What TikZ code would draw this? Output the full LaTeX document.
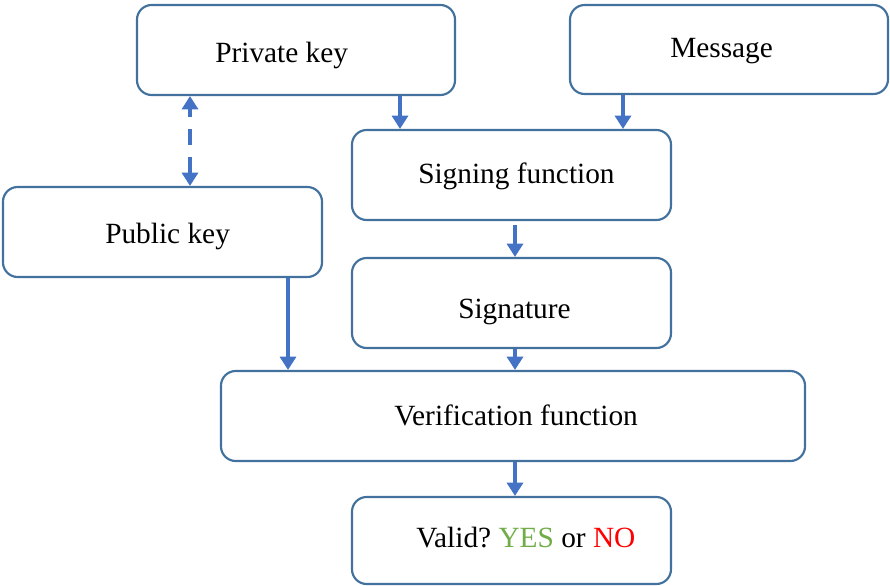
\documentclass[tikz,border=0pt]{standalone}
\usepackage{fontspec}
\setmainfont{Liberation Serif}
\usetikzlibrary{arrows.meta}
\frenchspacing
\definecolor{boxline}{HTML}{41719C}
\definecolor{flow}{HTML}{4472C4}
\definecolor{yesgreen}{HTML}{70AD47}
\definecolor{nored}{HTML}{FF0000}
\tikzset{
  stepbox/.style={draw=boxline, line width=1.6pt, rounded corners=11pt, fill=white,
    inner sep=0pt, minimum height=67.5pt},
  caption/.style={anchor=base west, inner sep=0pt, font=\fontsize{22}{26}\selectfont},
  flowarrow/.style={draw=flow, line width=2.8pt, -{Triangle[width=12pt,length=10pt]}},
  keylink/.style={draw=flow, line width=2.8pt, dash pattern=on 12pt off 9pt,
    {Triangle[width=12pt,length=10pt]}-{Triangle[width=12pt,length=10pt]}}
}
\begin{document}
\begin{tikzpicture}[x=0.75pt,y=-0.75pt]
\useasboundingbox (0,0) rectangle (890,586);

% boxes
\node[stepbox, minimum width=238.5pt] (priv) at (296,50) {};
\node[stepbox, minimum width=238.5pt, minimum height=66.75pt] (msg) at (729,49.5) {};
\node[stepbox, minimum width=239.25pt] (sign) at (511.5,175) {};
\node[stepbox, minimum width=239.25pt] (pub) at (162.5,232) {};
\node[stepbox, minimum width=239.25pt] (sig) at (511.5,303) {};
\node[stepbox, minimum width=438pt] (ver) at (513,416) {};
\node[stepbox, minimum width=239.25pt, minimum height=65.25pt] (val) at (511.5,540.5) {};

% labels
\node[caption] (tpriv) at (215,62) {Private key};
\node[caption] (tmsg) at (670,57) {Message};
\node[caption] (tsign) at (418,183) {Signing function};
\node[caption] (tpub) at (105,243) {Public key};
\node[caption] (tsig) at (458,318) {Signature};
\node[caption] (tver) at (394,425) {Verification function};
\node[caption] (tval) at (416,547) {Valid? \textcolor{yesgreen}{YES} or \textcolor{nored}{NO}};

% connectors, dropped from the box edges
\draw[flowarrow] (priv.south -| 400,0) -- (sign.north -| 400,0);
\draw[flowarrow] (msg.south -| 623,0) -- (sign.north -| 623,0);
\draw[keylink] (pub.north -| 190,0) -- (priv.south -| 190,0);
\draw[flowarrow] ([yshift=-3pt]sign.south -| 515,0) -- (sig.north -| 515,0);
\draw[flowarrow] (sig.south -| 515,0) -- (ver.north -| 515,0);
\draw[flowarrow] (pub.south -| 288,0) -- (ver.north -| 288,0);
\draw[flowarrow] (ver.south -| 515,0) -- (val.north -| 515,0);
\end{tikzpicture}
\end{document}
